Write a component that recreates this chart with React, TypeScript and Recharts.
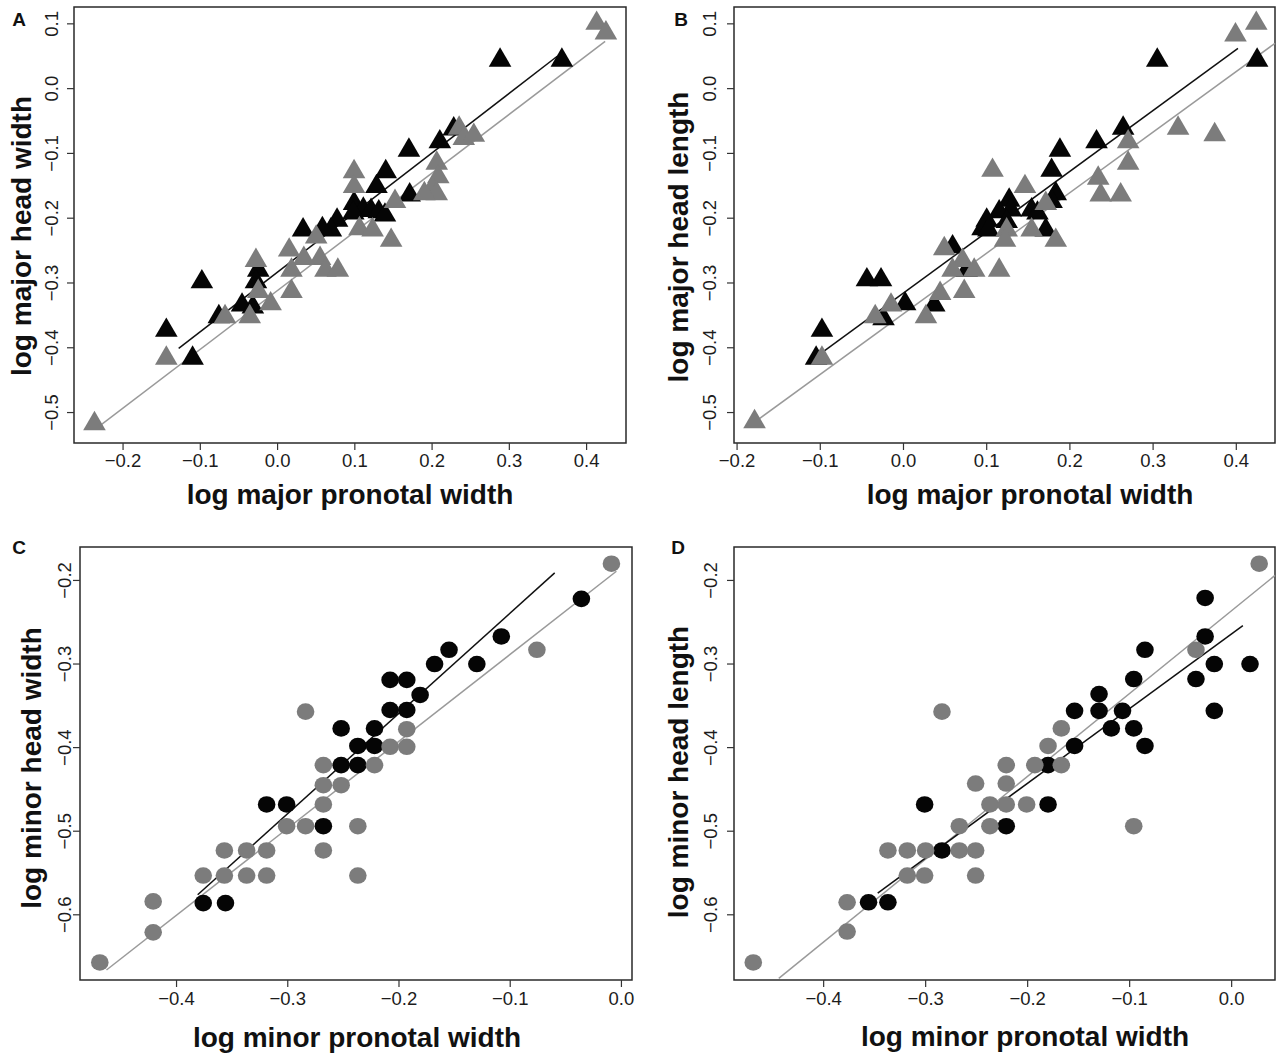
// Four-panel allometry figure: log head size vs log pronotal width,
// majors (triangles) and minors (dots), two groups each (dark / grey)
// with their fitted lines.

import { ScatterChart, Scatter, XAxis, YAxis, ReferenceLine, ReferenceArea } from "recharts";

type Pt = [number, number];

// ---- Panel A: log major head width ~ log major pronotal width ----
const A_DARK: Pt[] = [
  [0.288, 0.044], [0.368, 0.044], [0.170, -0.095], [0.210, -0.082], [0.228, -0.062],
  [0.140, -0.128], [0.128, -0.151], [0.171, -0.164], [0.099, -0.177], [0.111, -0.186],
  [0.121, -0.188], [0.131, -0.190], [0.098, -0.192], [0.139, -0.195], [0.077, -0.203],
  [0.069, -0.218], [0.058, -0.216], [0.033, -0.218], [-0.025, -0.280], [-0.028, -0.298],
  [-0.098, -0.298], [-0.046, -0.334], [-0.032, -0.337], [-0.076, -0.352], [-0.144, -0.373],
  [-0.110, -0.416],
];
const A_GREY: Pt[] = [
  [0.413, 0.101], [0.425, 0.086], [0.235, -0.061], [0.241, -0.077], [0.254, -0.072],
  [0.206, -0.115], [0.208, -0.136], [0.200, -0.154], [0.206, -0.162], [0.190, -0.162],
  [0.152, -0.174], [0.099, -0.128], [0.099, -0.151], [0.106, -0.216], [0.123, -0.218],
  [0.147, -0.234], [0.050, -0.229], [0.015, -0.249], [0.055, -0.262], [0.062, -0.280],
  [0.078, -0.280], [0.034, -0.262], [0.018, -0.280], [0.018, -0.313], [-0.028, -0.265],
  [-0.025, -0.313], [-0.009, -0.332], [-0.036, -0.352], [-0.068, -0.352], [-0.144, -0.416],
  [-0.237, -0.517],
];
const A_FIT_DARK: Pt[] = [[-0.128, -0.401], [0.362, 0.050]];
const A_FIT_GREY: Pt[] = [[-0.232, -0.522], [0.424, 0.073]];

// ---- Panel B: log major head length ~ log major pronotal width ----
const B_DARK: Pt[] = [
  [0.305, 0.044], [0.425, 0.044], [0.264, -0.061], [0.232, -0.082], [0.188, -0.095],
  [0.178, -0.126], [0.183, -0.162], [0.178, -0.174], [0.171, -0.218], [0.127, -0.172],
  [0.129, -0.187], [0.115, -0.190], [0.124, -0.205], [0.154, -0.187], [0.161, -0.192],
  [0.100, -0.203], [0.095, -0.216], [0.102, -0.218], [0.059, -0.244], [0.076, -0.280],
  [-0.044, -0.295], [-0.027, -0.295], [0.002, -0.332], [0.037, -0.334], [-0.024, -0.355],
  [-0.098, -0.373], [-0.105, -0.416],
];
const B_GREY: Pt[] = [
  [0.424, 0.101], [0.399, 0.083], [0.330, -0.061], [0.374, -0.071], [0.270, -0.082],
  [0.270, -0.115], [0.234, -0.138], [0.237, -0.164], [0.261, -0.164], [0.107, -0.126],
  [0.146, -0.151], [0.171, -0.177], [0.124, -0.218], [0.122, -0.234], [0.154, -0.218],
  [0.183, -0.234], [0.049, -0.247], [0.071, -0.265], [0.059, -0.280], [0.085, -0.280],
  [0.115, -0.280], [0.073, -0.313], [0.044, -0.316], [-0.015, -0.334], [-0.034, -0.352],
  [0.027, -0.352], [-0.098, -0.416], [-0.179, -0.514],
];
const B_FIT_DARK: Pt[] = [[-0.105, -0.414], [0.402, 0.062]];
const B_FIT_GREY: Pt[] = [[-0.176, -0.512], [0.4465, 0.070]];

// ---- Panel C: log minor head width ~ log minor pronotal width ----
const C_DARK: Pt[] = [
  [-0.036, -0.222], [-0.108, -0.267], [-0.155, -0.283], [-0.168, -0.300], [-0.130, -0.300],
  [-0.208, -0.319], [-0.193, -0.319], [-0.181, -0.337], [-0.208, -0.355], [-0.193, -0.355],
  [-0.252, -0.377], [-0.222, -0.377], [-0.237, -0.398], [-0.222, -0.398], [-0.252, -0.421],
  [-0.237, -0.421], [-0.319, -0.468], [-0.301, -0.468], [-0.268, -0.494], [-0.376, -0.586],
  [-0.356, -0.586],
];
const C_GREY: Pt[] = [
  [-0.009, -0.180], [-0.076, -0.283], [-0.284, -0.357], [-0.193, -0.378], [-0.208, -0.399],
  [-0.193, -0.399], [-0.222, -0.421], [-0.268, -0.421], [-0.268, -0.445], [-0.252, -0.445],
  [-0.268, -0.468], [-0.301, -0.494], [-0.284, -0.494], [-0.237, -0.494], [-0.357, -0.523],
  [-0.337, -0.523], [-0.319, -0.523], [-0.268, -0.523], [-0.376, -0.553], [-0.357, -0.553],
  [-0.337, -0.553], [-0.319, -0.553], [-0.237, -0.553], [-0.421, -0.584], [-0.421, -0.621],
  [-0.469, -0.657],
];
const C_FIT_DARK: Pt[] = [[-0.381, -0.576], [-0.060, -0.191]];
const C_FIT_GREY: Pt[] = [[-0.463, -0.666], [-0.0045, -0.189]];

// ---- Panel D: log minor head length ~ log minor pronotal width ----
const D_DARK: Pt[] = [
  [-0.026, -0.221], [-0.026, -0.267], [-0.085, -0.283], [-0.017, -0.300], [0.018, -0.300],
  [-0.035, -0.318], [-0.096, -0.318], [-0.130, -0.336], [-0.154, -0.356], [-0.130, -0.356],
  [-0.107, -0.356], [-0.017, -0.356], [-0.118, -0.377], [-0.096, -0.377], [-0.154, -0.398],
  [-0.085, -0.398], [-0.180, -0.421], [-0.301, -0.468], [-0.180, -0.468], [-0.221, -0.494],
  [-0.284, -0.523], [-0.356, -0.585], [-0.337, -0.585],
];
const D_GREY: Pt[] = [
  [0.027, -0.180], [-0.035, -0.283], [-0.284, -0.357], [-0.167, -0.377], [-0.180, -0.398],
  [-0.221, -0.421], [-0.193, -0.421], [-0.167, -0.421], [-0.251, -0.443], [-0.221, -0.443],
  [-0.237, -0.468], [-0.221, -0.468], [-0.201, -0.468], [-0.267, -0.494], [-0.237, -0.494],
  [-0.096, -0.494], [-0.337, -0.523], [-0.318, -0.523], [-0.300, -0.523], [-0.267, -0.523],
  [-0.251, -0.523], [-0.318, -0.553], [-0.301, -0.553], [-0.251, -0.553], [-0.377, -0.585],
  [-0.377, -0.620], [-0.469, -0.657],
];
const D_FIT_DARK: Pt[] = [[-0.347, -0.574], [0.011, -0.254]];
const D_FIT_GREY: Pt[] = [[-0.444, -0.676], [0.0425, -0.194]];

// tick labels
const MAJOR_X_TICKS = [-0.2, -0.1, 0.0, 0.1, 0.2, 0.3, 0.4];
const MAJOR_Y_TICKS = [-0.5, -0.4, -0.3, -0.2, -0.1, 0.0, 0.1];
const MINOR_X_TICKS = [-0.4, -0.3, -0.2, -0.1, 0.0];
const MINOR_Y_TICKS = [-0.6, -0.5, -0.4, -0.3, -0.2];

const FONT = "'Liberation Sans', Arial, Helvetica, sans-serif";
const DARK = "#050505";
const GREY = "#7c7c7c";
const TEXT = "#1c1c1c";
const TICK_FS = 18.5;

const fmt = (v: number) => (v < -1e-9 ? "\u2212" : "") + Math.abs(v).toFixed(1);
const toRows = (pts: Pt[]) => pts.map(([x, y]) => ({ x, y }));

function Triangle(props: any) {
  const { cx, cy, fill } = props;
  if (cx == null || cy == null) return null;
  const hw = 11.3;
  return (
    <polygon
      points={`${cx},${cy - 12.8} ${cx + hw},${cy + 6.6} ${cx - hw},${cy + 6.6}`}
      fill={fill}
    />
  );
}

function Dot(props: any) {
  const { cx, cy, fill } = props;
  if (cx == null || cy == null) return null;
  return <ellipse cx={cx} cy={cy} rx={8.8} ry={8.3} fill={fill} />;
}

interface Box { l: number; t: number; r: number; b: number }

interface PanelProps {
  left: number;
  top: number;
  width: number;
  height: number;
  box: Box;
  xDomain: [number, number];
  yDomain: [number, number];
  xTicks: number[];
  yTicks: number[];
  dark: Pt[];
  grey: Pt[];
  fitDark: Pt[];
  fitGrey: Pt[];
  marker: "tri" | "dot";
  yTickGap: number; // box left -> centre of rotated y tick labels
  xTickGap: number; // box bottom -> centre of x tick labels
}

function Panel(p: PanelProps) {
  const localL = p.box.l - p.left;
  const localB = p.box.b - p.top;
  const Shape = p.marker === "tri" ? Triangle : Dot;

  const xTick = (t: any) => (
    <text
      x={t.x}
      y={localB + p.xTickGap + 6.5}
      textAnchor="middle"
      fontFamily={FONT}
      fontSize={TICK_FS}
      fill={TEXT}
    >
      {fmt(t.payload.value)}
    </text>
  );
  const yTick = (t: any) => {
    const bx = localL - p.yTickGap + 6.5;
    return (
      <text
        x={bx}
        y={t.y}
        transform={`rotate(-90, ${bx}, ${t.y})`}
        textAnchor="middle"
        fontFamily={FONT}
        fontSize={TICK_FS}
        fill={TEXT}
      >
        {fmt(t.payload.value)}
      </text>
    );
  };

  return (
    <div style={{ position: "absolute", left: p.left, top: p.top }}>
      <ScatterChart
        width={p.width}
        height={p.height}
        margin={{ top: p.box.t - p.top, right: p.left + p.width - p.box.r, bottom: 0, left: 0 }}
      >
        <XAxis
          type="number"
          dataKey="x"
          domain={p.xDomain}
          ticks={p.xTicks}
          interval={0}
          allowDataOverflow
          height={p.top + p.height - p.box.b}
          axisLine={false}
          tickSize={7}
          tickMargin={0}
          tickLine={{ stroke: "#333", strokeWidth: 1.2 }}
          tick={xTick}
        />
        <YAxis
          type="number"
          dataKey="y"
          domain={p.yDomain}
          ticks={p.yTicks}
          interval={0}
          allowDataOverflow
          width={localL}
          axisLine={false}
          tickSize={7}
          tickMargin={0}
          tickLine={{ stroke: "#333", strokeWidth: 1.2 }}
          tick={yTick}
        />
        <ReferenceArea
          x1={p.xDomain[0]}
          x2={p.xDomain[1]}
          y1={p.yDomain[0]}
          y2={p.yDomain[1]}
          fill="none"
          fillOpacity={0}
          stroke="#2a2a2a"
          strokeWidth={1.5}
          ifOverflow="visible"
        />
        <Scatter data={toRows(p.dark)} fill={DARK} shape={Shape} isAnimationActive={false} />
        <Scatter data={toRows(p.grey)} fill={GREY} shape={Shape} isAnimationActive={false} />
        <ReferenceLine
          segment={p.fitGrey.map(([x, y]) => ({ x, y }))}
          stroke="#9a9a9a"
          strokeWidth={1.5}
          ifOverflow="visible"
        />
        <ReferenceLine
          segment={p.fitDark.map(([x, y]) => ({ x, y }))}
          stroke="#111"
          strokeWidth={1.5}
          ifOverflow="visible"
        />
      </ScatterChart>
    </div>
  );
}

function Title({ x, y, text, rotate }: { x: number; y: number; text: string; rotate?: boolean }) {
  return (
    <div
      style={{
        position: "absolute",
        left: x,
        top: y,
        transform: `translate(-50%, -50%)${rotate ? " rotate(-90deg)" : ""}`,
        whiteSpace: "nowrap",
        fontFamily: FONT,
        fontWeight: 700,
        fontSize: 28,
        lineHeight: 1,
        color: "#111",
      }}
    >
      {text}
    </div>
  );
}

function Letter({ x, y, text }: { x: number; y: number; text: string }) {
  return (
    <div
      style={{
        position: "absolute",
        left: x,
        top: y,
        transform: "translate(-50%, -50%)",
        fontFamily: FONT,
        fontWeight: 700,
        fontSize: 19,
        lineHeight: 1,
        color: "#111",
      }}
    >
      {text}
    </div>
  );
}

export default function App() {
  return (
    <div
      style={{
        position: "absolute",
        left: 0,
        top: 0,
        width: 1277,
        height: 1057,
        background: "#fff",
        overflow: "hidden",
      }}
    >
      <Panel
        left={0} top={0} width={640} height={520}
        box={{ l: 74, t: 7, r: 626, b: 443 }}
        xDomain={[-0.2635, 0.451]} yDomain={[-0.547, 0.126]}
        xTicks={MAJOR_X_TICKS} yTicks={MAJOR_Y_TICKS}
        dark={A_DARK} grey={A_GREY} fitDark={A_FIT_DARK} fitGrey={A_FIT_GREY}
        marker="tri" yTickGap={22} xTickGap={17}
      />
      <Panel
        left={640} top={0} width={637} height={520}
        box={{ l: 734, t: 7, r: 1275, b: 443 }}
        xDomain={[-0.2037, 0.4465]} yDomain={[-0.547, 0.126]}
        xTicks={MAJOR_X_TICKS} yTicks={MAJOR_Y_TICKS}
        dark={B_DARK} grey={B_GREY} fitDark={B_FIT_DARK} fitGrey={B_FIT_GREY}
        marker="tri" yTickGap={24} xTickGap={17}
      />
      <Panel
        left={0} top={530} width={640} height={527}
        box={{ l: 80, t: 547, r: 632, b: 980 }}
        xDomain={[-0.4868, 0.0095]} yDomain={[-0.678, -0.16]}
        xTicks={MINOR_X_TICKS} yTicks={MINOR_Y_TICKS}
        dark={C_DARK} grey={C_GREY} fitDark={C_FIT_DARK} fitGrey={C_FIT_GREY}
        marker="dot" yTickGap={15} xTickGap={18.5}
      />
      <Panel
        left={640} top={530} width={637} height={527}
        box={{ l: 734, t: 547, r: 1275, b: 980 }}
        xDomain={[-0.4879, 0.0425]} yDomain={[-0.678, -0.16]}
        xTicks={MINOR_X_TICKS} yTicks={MINOR_Y_TICKS}
        dark={D_DARK} grey={D_GREY} fitDark={D_FIT_DARK} fitGrey={D_FIT_GREY}
        marker="dot" yTickGap={23} xTickGap={18.5}
      />

      <Letter x={19} y={19} text="A" />
      <Letter x={681} y={19} text="B" />
      <Letter x={19} y={547} text="C" />
      <Letter x={678} y={547} text="D" />

      <Title x={22} y={236} text="log major head width" rotate />
      <Title x={350} y={495} text="log major pronotal width" />
      <Title x={679} y={237} text="log major head length" rotate />
      <Title x={1030} y={495} text="log major pronotal width" />
      <Title x={32} y={768} text="log minor head width" rotate />
      <Title x={357} y={1038} text="log minor pronotal width" />
      <Title x={679} y={772} text="log minor head length" rotate />
      <Title x={1025} y={1037} text="log minor pronotal width" />
    </div>
  );
}
